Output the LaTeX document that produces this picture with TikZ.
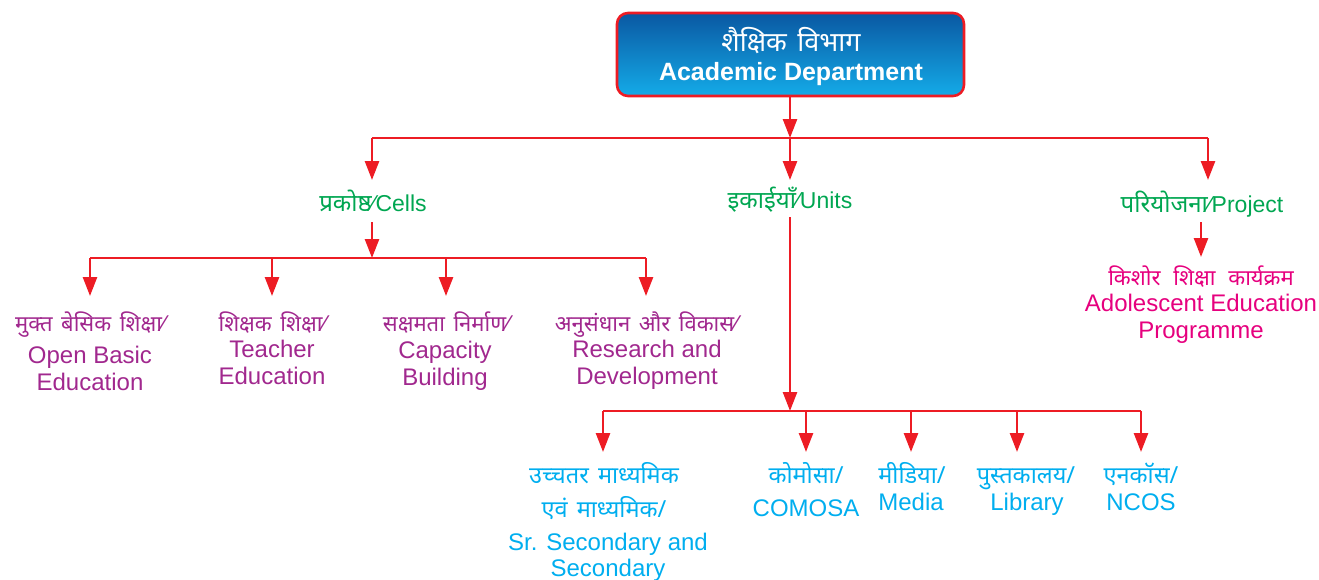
\documentclass[tikz,border=0pt]{standalone}
\usepackage{fontspec}
\setmainfont{Liberation Sans}
\newfontfamily\dv[Script=Devanagari,WordSpace=1.5]{Noto Sans}
\usetikzlibrary{arrows.meta}
\definecolor{cred}{HTML}{ED1C24}
\definecolor{cgreen}{HTML}{00A651}
\definecolor{cpurple}{HTML}{A1288E}
\definecolor{cpink}{HTML}{E6007E}
\definecolor{ccyan}{HTML}{00AEEF}
\definecolor{ctop}{HTML}{0A58A2}
\definecolor{cbot}{HTML}{14ABE8}
\newcommand{\fsl}{{\char"2044\relax}}
\begin{document}
\begin{tikzpicture}[x=1pt,y=-1pt,
  line/.style={cred,line width=2.6pt},
  arr/.style={line,-{Triangle[length=19pt,width=14pt]}},
  bl/.style={anchor=base,inner sep=0pt,outer sep=0pt},
  en/.style={bl,font=\fontsize{24}{27}\selectfont},
  dvl/.style={bl,font=\dv\fontsize{22}{26}\selectfont},
  dvc/.style={bl,font=\dv\fontsize{23.5}{26}\selectfont},
  dvb/.style={bl,font=\dv\bfseries\fontsize{22}{26}\selectfont},
  gl/.style={bl,text=cgreen,font=\fontsize{23}{27}\selectfont},
  topbox/.style={draw=cred,line width=2.6pt,rounded corners=11pt,
     top color=ctop,bottom color=cbot,minimum width=347pt,minimum height=83pt,inner sep=0pt}
]
\useasboundingbox (0,0) rectangle (1319,579);

% top
\node[topbox] (top) at (790.5,54.5) {};
\node[bl,text=white,font=\dv\fontsize{27}{27}\selectfont] (topa) at (791,51) {शैक्षिक विभाग};
\node[bl,text=white,font=\bfseries\fontsize{25}{25}\selectfont] (topb) at (791,80) {Academic Department};

% level 1
\coordinate (tj) at (790,138);
\coordinate (tl) at (372,138);
\coordinate (tr) at (1208,138);
\draw[arr] (top.south -| tj) -- (tj);
\draw[line] (tl) -- (tr);

\node[gl,text height=31pt,text depth=11pt] (cells) at (373,211) {{\dv\bfseries\fontsize{24}{24}\selectfont प्रकोष्ठ}\fsl Cells};
\node[gl,text height=28pt,text depth=9pt] (units) at (790,208) {{\dv\bfseries\fontsize{24}{24}\selectfont इकाईयाँ}\fsl Units};
\node[gl,text height=32pt,text depth=10pt] (proj) at (1202,212) {{\dv\bfseries\fontsize{24}{24}\selectfont परियोजना}\fsl Project};

\draw[arr] (tl) -- (tl |- cells.north);
\draw[arr] (tj) -- (tj |- units.north);
\draw[arr] (tr) -- (tr |- proj.north);

% cells
\coordinate (cj) at (372,258);
\coordinate (c1) at (90,258);
\coordinate (c2) at (272,258);
\coordinate (c3) at (446,258);
\coordinate (c4) at (646,258);
\draw[arr] (cells.south -| cj) -- (cj);
\draw[line] (c1) -- (c4);

\begin{scope}[text=cpurple]
\node[dvl,text height=35pt] (ob1) at (90,331) {मुक्त बेसिक शिक्षा\fsl};
\node[en] (ob2) at (90,363) {Open Basic};
\node[en] (ob3) at (90,390) {Education};
\node[dvl,text height=35pt] (te1) at (272,331) {शिक्षक शिक्षा\fsl};
\node[en] (te2) at (272,357) {Teacher};
\node[en] (te3) at (272,384) {Education};
\node[dvl,text height=35pt] (cb1) at (446,331) {सक्षमता निर्माण\fsl};
\node[en] (cb2) at (445,358) {Capacity};
\node[en] (cb3) at (445,385) {Building};
\node[dvl,text height=35pt] (rd1) at (646,331) {अनुसंधान और विकास\fsl};
\node[en] (rd2) at (647,357) {Research and};
\node[en] (rd3) at (647,384) {Development};
\end{scope}
\draw[arr] (c1) -- (ob1.north);
\draw[arr] (c2) -- (te1.north);
\draw[arr] (c3) -- (cb1.north);
\draw[arr] (c4) -- (rd1.north);

% units
\coordinate (uj) at (790,411);
\coordinate (u1) at (603,411);
\coordinate (u2) at (806,411);
\coordinate (u3) at (911,411);
\coordinate (u4) at (1017,411);
\coordinate (u5) at (1141,411);
\draw[arr] (units.south) -- (uj);
\draw[line] (u1) -- (u5);

\begin{scope}[text=ccyan]
\node[dvc,text height=31pt] (ss1) at (604,483) {उच्चतर माध्यमिक};
\node[dvc] (ss2) at (604,517) {एवं माध्यमिक/};
\node[en] (ss3) at (608,550) {Sr. Secondary and};
\node[en] (ss4) at (608,576) {Secondary};
\node[dvc,text height=31pt] (co1) at (806,483) {कोमोसा/};
\node[en] (co2) at (806,516) {COMOSA};
\node[dvc,text height=31pt] (me1) at (912,483) {मीडिया/};
\node[en] (me2) at (911,510) {Media};
\node[dvc,text height=31pt] (li1) at (1026,483) {पुस्तकालय/};
\node[en] (li2) at (1027,510) {Library};
\node[dvc,text height=31pt] (nc1) at (1141,483) {एनकॉस/};
\node[en] (nc2) at (1141,510) {NCOS};
\end{scope}
\draw[arr] (u1) -- (u1 |- ss1.north);
\draw[arr] (u2) -- (co1.north);
\draw[arr] (u3) -- (u3 |- me1.north);
\draw[arr] (u4) -- (u4 |- li1.north);
\draw[arr] (u5) -- (nc1.north);

% project
\begin{scope}[text=cpink]
\node[dvb,text height=28pt] (ad1) at (1201,285) {किशोर शिक्षा कार्यक्रम};
\node[en] (ad2) at (1201,311) {Adolescent Education};
\node[en] (ad3) at (1201,338) {Programme};
\end{scope}
\draw[arr] (proj.south -| ad1) -- (ad1.north);
\end{tikzpicture}
\end{document}
